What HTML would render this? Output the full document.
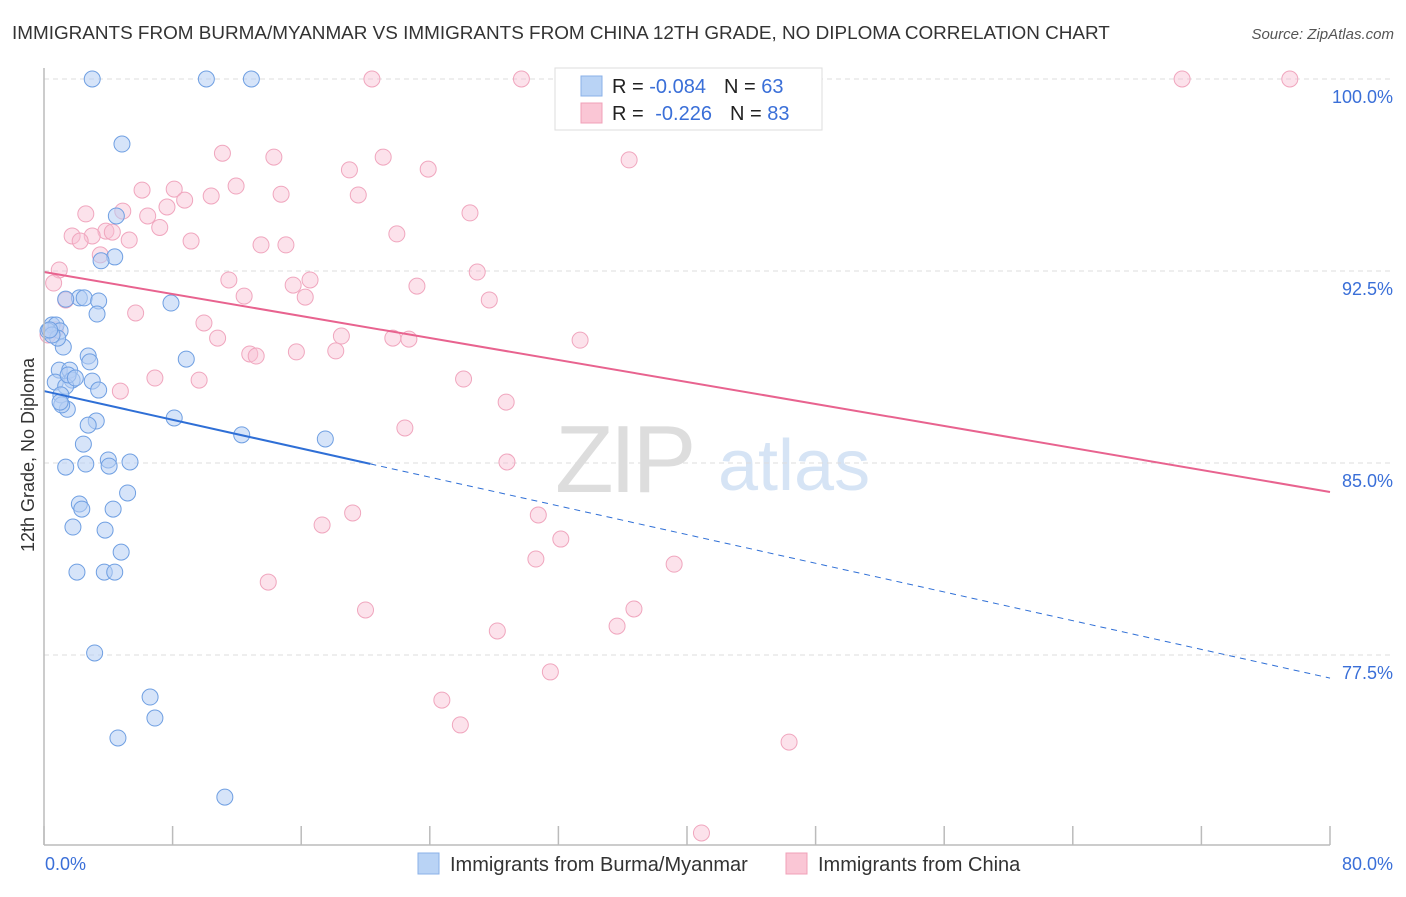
<!DOCTYPE html>
<html><head><meta charset="utf-8"><style>
body{margin:0;background:#fff;font-family:"Liberation Sans",sans-serif}
svg text{font-family:"Liberation Sans",sans-serif}
</style></head><body>
<svg id="chart" width="1406" height="892" xmlns="http://www.w3.org/2000/svg">
<text x="12" y="39" font-size="18.9" fill="#333">IMMIGRANTS FROM BURMA/MYANMAR VS IMMIGRANTS FROM CHINA 12TH GRADE, NO DIPLOMA CORRELATION CHART</text>
<text x="1394" y="39" font-size="15" fill="#555" font-style="italic" text-anchor="end">Source: ZipAtlas.com</text>
<text transform="translate(34,455) rotate(-90)" font-size="18" fill="#333" text-anchor="middle">12th Grade, No Diploma</text>
<text x="555" y="492" font-size="96" fill="#ddd" font-family="Liberation Serif" letter-spacing="-4">ZIP</text>
<text x="718" y="490" font-size="72" fill="#d6e4f5">atlas</text>
<g id="grid"></g><g id="pts"></g><g id="lines"></g>
<line x1="44" y1="845" x2="1330" y2="845" stroke="#bbb" stroke-width="1.5"/>
<line x1="44" y1="68" x2="44" y2="845" stroke="#bbb" stroke-width="1.5"/>
<text x="45" y="870" font-size="18" fill="#3a6fd8">0.0%</text>
<text x="1393" y="870" font-size="18" fill="#3a6fd8" text-anchor="end">80.0%</text>
<g>
<rect x="555" y="68" width="267" height="62" fill="#fff" stroke="#ddd"/>
<rect x="581" y="76" width="21" height="20" fill="#b9d3f5" stroke="#8ab0e8"/>
<rect x="581" y="103" width="21" height="20" fill="#fac6d5" stroke="#f0a0b8"/>
<text x="612" y="93" font-size="20" fill="#222">R = <tspan fill="#3a6fd8">-0.084</tspan><tspan dx="18">N = </tspan><tspan fill="#3a6fd8">63</tspan></text>
<text x="612" y="120" font-size="20" fill="#222">R = <tspan fill="#3a6fd8" dx="6">-0.226</tspan><tspan dx="18">N = </tspan><tspan fill="#3a6fd8">83</tspan></text>
</g>
<g><rect x="418" y="853" width="21" height="21" fill="#b9d3f5" stroke="#8ab0e8"/><text x="450" y="871" font-size="20" fill="#333">Immigrants from Burma/Myanmar</text></g>
<g><rect x="786" y="853" width="21" height="21" fill="#fac6d5" stroke="#f0a0b8"/><text x="818" y="871" font-size="20" fill="#333">Immigrants from China</text></g>
</svg>
<script>
const yTicks=[100,92.5,85,77.5];
const yTickLabels=["100.0%","92.5%","85.0%","77.5%"];
const xTicks=[0,8,16,24,32,40,48,56,64,72,80];
const blueX=[3.0,10.1,12.9,4.85,4.5,4.4,3.55,2.2,2.5,3.4,1.35,3.3,7.9,0.5,0.75,1.0,0.25,1.2,8.85,2.75,2.85,0.95,1.6,1.75,0.7,1.35,3.0,3.4,1.05,1.45,3.25,2.75,8.1,12.3,17.5,2.45,2.6,1.35,4.0,4.05,5.35,5.2,2.2,2.35,4.3,1.8,3.8,4.8,2.05,3.75,4.4,3.15,6.6,6.9,4.6,11.25,0.85,0.5,0.35,1.5,1.95,1.1,1.0];
const blueY=[100,100,100,97.46,94.65,93.05,92.9,91.45,91.45,91.33,91.4,90.82,91.25,90.39,90.39,90.16,90.16,89.53,89.06,89.18,88.95,88.63,88.63,88.24,88.16,88.0,88.2,87.85,87.66,87.1,86.64,86.48,86.76,86.1,85.94,85.74,84.96,84.84,85.12,84.88,85.04,83.83,83.4,83.2,83.2,82.5,82.38,81.52,80.74,80.74,80.74,77.58,75.86,75.04,74.26,71.95,89.88,90.0,90.2,88.44,88.32,87.27,87.38];
const pinkX=[20.4,29.7,32.9,70.8,77.5,34.5,11.1,14.3,21.1,36.4,19.0,23.9,6.1,8.1,11.95,14.75,10.4,19.55,8.75,7.65,4.9,2.6,6.45,26.5,7.2,3.85,1.75,3.0,4.25,5.3,9.15,2.25,21.95,13.5,15.05,3.5,0.95,0.6,11.5,16.55,15.5,26.95,23.2,12.45,16.25,1.35,27.7,5.7,9.95,10.8,18.5,21.7,22.7,33.35,12.8,13.2,15.7,18.15,4.75,9.65,6.9,26.1,28.75,22.45,28.8,17.3,19.2,30.75,32.15,30.6,39.2,13.95,20.0,36.7,35.65,28.2,31.5,24.75,25.9,46.35,40.9,0.25,0.7];
const pinkY=[100,100,100,100,100,99.5,97.1,96.95,96.95,96.84,96.45,96.48,95.66,95.7,95.82,95.5,95.43,95.47,95.27,95.0,94.84,94.73,94.65,94.77,94.2,94.06,93.87,93.87,94.02,93.71,93.67,93.67,93.95,93.52,93.52,93.13,92.54,92.03,92.15,92.15,91.95,92.46,91.91,91.52,91.48,91.37,91.37,90.86,90.47,89.88,89.96,89.88,89.84,89.8,89.26,89.18,89.34,89.38,87.81,88.24,88.32,88.28,87.38,86.37,85.04,82.58,83.05,82.97,82.03,81.25,81.05,80.35,79.26,79.3,78.63,78.44,76.84,75.74,74.77,74.1,70.55,90.0,90.2];
const blueTrend=[87.81,76.6];
const pinkTrend=[92.46,83.87];
const X=v=>44+v/80*1286, Y=v=>79+(100-v)/(100-70.08)*766;
const NS="http://www.w3.org/2000/svg";
function mk(p,t,a){const e=document.createElementNS(NS,t);for(const k in a)e.setAttribute(k,a[k]);p.appendChild(e);return e;}
const grid=document.getElementById('grid');
yTicks.forEach((t,i)=>{
 const l=mk(grid,'line',{x1:44,x2:1394,y1:Y(t),y2:Y(t),stroke:'#ddd','stroke-dasharray':'5,4'});
 
 
 const tx=mk(grid,'text',{x:1393,y:Y(t)+24,'font-size':18,fill:'#3a6fd8','text-anchor':'end'});
 tx.textContent=yTickLabels[i];
 
 
});
xTicks.forEach(t=>{
 const l=mk(grid,'line',{x1:X(t),x2:X(t),y1:826,y2:845,stroke:'#bbb','stroke-width':1.5});
 
 
});
const pts=document.getElementById('pts');
pinkX.forEach((x,i)=>{
 const c=mk(pts,'circle',{cx:X(x),cy:Y(pinkY[i]),r:8,fill:'rgba(248,190,210,0.45)',stroke:'#f0a6be','stroke-width':1});
 
 
});
blueX.forEach((x,i)=>{
 const c=mk(pts,'circle',{cx:X(x),cy:Y(blueY[i]),r:8,fill:'rgba(180,206,244,0.55)',stroke:'#6f9fe2','stroke-width':1});
 
 
});
const lines=document.getElementById('lines');
const bAt=x=>blueTrend[0]+(blueTrend[1]-blueTrend[0])*x/80;
let l1=mk(lines,'line',{x1:X(0),y1:Y(bAt(0)),x2:X(20.3),y2:Y(bAt(20.3)),stroke:'#2f6fd6','stroke-width':2});


let l2=mk(lines,'line',{x1:X(20.3),y1:Y(bAt(20.3)),x2:X(80),y2:Y(bAt(80)),stroke:'#2f6fd6','stroke-width':1,'stroke-dasharray':'6,5'});


let l3=mk(lines,'line',{x1:X(0),y1:Y(pinkTrend[0]),x2:X(80),y2:Y(pinkTrend[1]),stroke:'#e8638f','stroke-width':2});


</script>
</body></html>
